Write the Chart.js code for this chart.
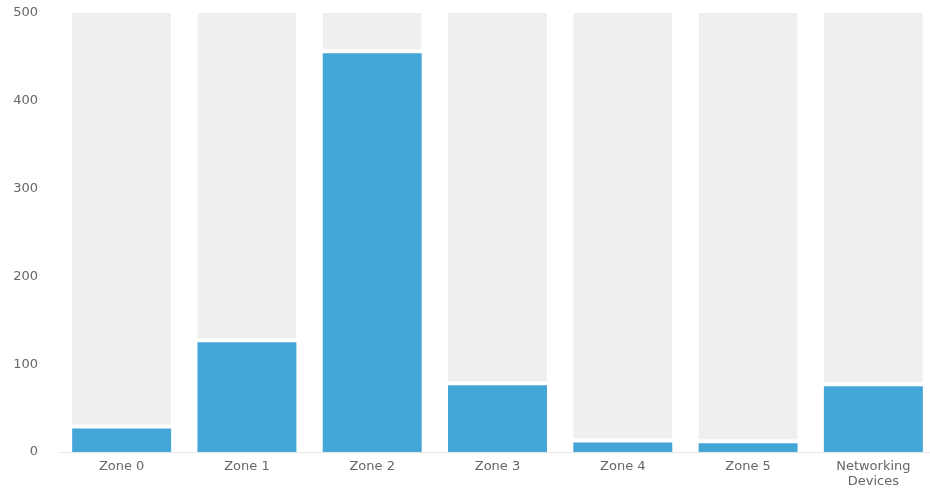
<!DOCTYPE html>
<html>
<head>
<meta charset="utf-8">
<script src="https://cdn.jsdelivr.net/npm/chart.js@4.4.1/dist/chart.umd.min.js"></script>
<style>
  html, body { margin: 0; padding: 0; background: #fff; overflow: hidden; }
  #wrap { position: relative; width: 938px; height: 488px; }
</style>
</head>
<body>
<div id="wrap"><canvas id="zoneChart"></canvas></div>
<script>
// categories and device counts per zone
const zones = ['Zone 0', 'Zone 1', 'Zone 2', 'Zone 3', 'Zone 4', 'Zone 5', ['Networking', 'Devices']];
const deviceCounts = [27, 125, 454, 76, 11, 10, 75];
const axisMax = 500;
const yTicks = [0, 100, 200, 300, 400, 500];

// grey track fills the rest of each column up to the axis max
const remaining = deviceCounts.map(v => axisMax - v);

const ctx = document.getElementById('zoneChart').getContext('2d');

new Chart(ctx, {
    type: 'bar',
    data: {
        labels: zones,
        datasets: [{
            label: 'Devices',
            data: deviceCounts,
            backgroundColor: '#44a6d6',
            borderWidth: 0,
            barPercentage: 0.79,
            categoryPercentage: 1,
            inflateAmount: 0
        }, {
            label: 'Remaining',
            data: remaining,
            backgroundColor: '#efefef',
            borderColor: '#ffffff',
            borderWidth: { top: 0, left: 0, right: 0, bottom: 4 },
            borderSkipped: false,
            barPercentage: 0.79,
            categoryPercentage: 1,
            inflateAmount: 0
        }]
    },
    options: {
        responsive: true,
        maintainAspectRatio: false,
        animation: false,
        layout: {
            padding: { top: 0, right: 2, bottom: -8, left: 0 }
        },
        plugins: {
            legend: { display: false },
            tooltip: { enabled: false }
        },
        scales: {
            x: {
                stacked: true,
                grid: { display: false, drawTicks: false, tickLength: 0 },
                border: { display: true, color: '#e4e4e4', width: 1 },
                ticks: {
                    color: '#666',
                    padding: 7,
                    maxRotation: 0,
                    font: { family: 'DejaVu Sans', size: 13, lineHeight: 1.15 }
                }
            },
            y: {
                stacked: true,
                min: 0,
                max: axisMax,
                afterBuildTicks: axis => {
                    axis.ticks = yTicks.map(v => ({ value: v }));
                },
                // fixed gutter for the value labels
                afterFit: axis => {
                    axis.width = 59;
                },
                grid: { display: false, drawTicks: true, tickLength: 16 },
                border: { display: false },
                ticks: {
                    color: '#666',
                    padding: 5,
                    font: { family: 'DejaVu Sans', size: 13 }
                }
            }
        }
    }
});
</script>
</body>
</html>
